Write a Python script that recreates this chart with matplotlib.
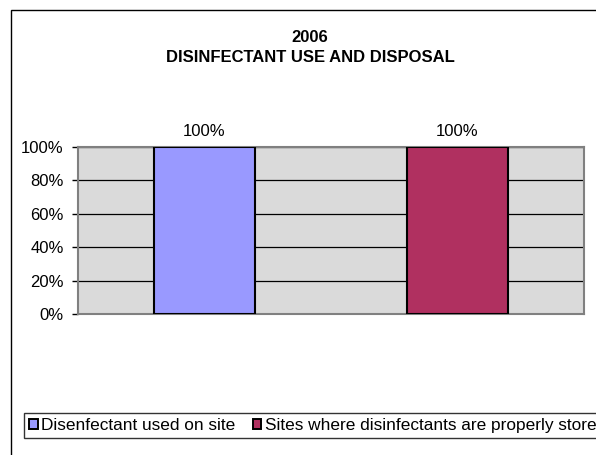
import matplotlib
matplotlib.use("Agg")
import matplotlib.pyplot as plt
from matplotlib.patches import Rectangle
from matplotlib.ticker import FuncFormatter

plt.rcParams['font.family'] = ['Liberation Sans', 'DejaVu Sans']

# Chart data
categories = ["Disenfectant used on site", "Sites where disinfectants are properly stored"]
values = [100, 100]
colors = ["#9999ff", "#b03060"]
title_lines = ["2006", "DISINFECTANT USE AND DISPOSAL"]
yticks = [0, 20, 40, 60, 80, 100]

W, H = 596, 455
fig = plt.figure(figsize=(W / 100, H / 100), dpi=100)

# Outer chart frame (runs off the right and bottom edges)
fig.patches.append(Rectangle((11 / W, -0.1), 2.0, (H - 9.5) / H + 0.1,
                             transform=fig.transFigure, fill=False,
                             edgecolor="black", linewidth=1.0))

ax = fig.add_axes([78 / W, (H - 314) / H, (584 - 78) / W, (314 - 147) / H])
ax.set_facecolor("#dadada")

x = list(range(len(categories)))
ax.bar(x, values, width=0.4, color=colors, edgecolor="black",
       linewidth=1.5, zorder=3)

ax.set_xlim(-0.5, len(categories) - 0.5)
ax.set_ylim(0, 100)
ax.set_yticks(yticks)
ax.yaxis.set_major_formatter(FuncFormatter(lambda v, p: f"{v:.0f}%"))
ax.set_xticks([])
ax.tick_params(axis="y", length=4.3, width=1, color="black", labelsize=12, pad=6)
ax.grid(axis="y", color="black", linewidth=0.9, zorder=1)

for s in ax.spines.values():
    s.set_color("#808080")
    s.set_linewidth(1.5)

# Value labels above the bars
for xi, v in zip(x, values):
    ax.annotate(f"{v}%", (xi, v), xytext=(0, 8), textcoords="offset points",
                ha="center", va="baseline", fontsize=12)

fig.text(310 / W, 1 - 37 / H, title_lines[0], ha="center", va="center",
         fontsize=12, fontweight="bold")
fig.text(310 / W, 1 - 57 / H, title_lines[1], ha="center", va="center",
         fontsize=12, fontweight="bold")

handles = [Rectangle((0, 0), 1, 1, facecolor=c, edgecolor="black", linewidth=1.4)
           for c in colors]
leg = fig.legend(handles, categories, loc="lower left",
                 bbox_to_anchor=(24 / W, (H - 438) / H), ncol=2,
                 fontsize=12.4, frameon=True, fancybox=False,
                 handlelength=0.5, handleheight=0.5, handletextpad=0.2,
                 columnspacing=1.0, borderpad=0.3, borderaxespad=0)
leg.get_frame().set_edgecolor("black")
leg.get_frame().set_linewidth(1.0)

fig.savefig("out.png", dpi=100)
